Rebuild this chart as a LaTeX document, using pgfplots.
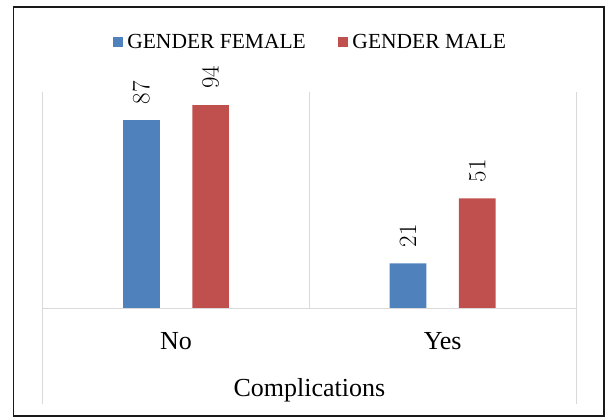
\documentclass[border=0pt]{standalone}
\usepackage{fontspec}
\setmainfont{Liberation Serif}
\usepackage{pgfplots}
\pgfplotsset{compat=1.18}
\definecolor{fblue}{HTML}{4F81BD}
\definecolor{mred}{HTML}{C0504D}
\definecolor{gridgray}{HTML}{D9D9D9}
\begin{document}
\begin{tikzpicture}[x=1pt,y=1pt]
\path[use as bounding box] (0,0) rectangle (606,417);
\draw[line width=1.3pt, black!90] (13.5,1) rectangle (604,410);
\begin{axis}[
  at={(42.7pt,108pt)}, anchor=south west,
  scale only axis, width=533.3pt, height=217pt,
  xmin=-0.5, xmax=1.5, ymin=0, ymax=100,
  ybar, bar width=36.7pt,
  axis line style={draw=none},
  ytick=\empty,
  xtick={0,1}, xticklabels={No,Yes},
  major tick length=0pt,
  xticklabel style={font=\rmfamily\fontsize{26}{30}\selectfont, anchor=base, inner sep=0pt, yshift=-40.3pt},
  extra x ticks={-0.5,0.5,1.5}, extra x tick labels={},
  extra x tick style={grid=major, major grid style={gridgray, line width=1pt}},
  xlabel={Complications},
  xlabel style={font=\rmfamily\fontsize{26}{30}\selectfont, at={(axis description cs:0.5,0)}, anchor=base, inner sep=0pt, yshift=-87.7pt},
  clip=false,
  legend columns=2,
  legend style={draw=none, fill=none, at={(axis description cs:0.5,1)}, anchor=center, yshift=50pt, font=\rmfamily\fontsize{21.5}{25}\selectfont, inner sep=0pt, nodes={inner sep=0pt, font=\rmfamily\fontsize{21.5}{25}\selectfont}, /tikz/every odd column/.append style={column sep=4.6pt}, /tikz/every even column/.append style={column sep=32pt}},
  legend image code/.code={\fill[#1] (0pt,-5pt) rectangle (10pt,5pt);},
  nodes near coords,
  nodes near coords style={font=\rmfamily\fontsize{25}{29}\selectfont, yshift=16pt, rotate=90, anchor=west, inner sep=0pt, black},
]
\addplot[fill=fblue, draw=none, bar shift=-34.6pt] coordinates {(0,87) (1,21)};
\addplot[fill=mred, draw=none, bar shift=34.6pt] coordinates {(0,94) (1,51)};
\legend{GENDER FEMALE, GENDER MALE}
\draw[gridgray, line width=1pt] (axis cs:-0.5,0) -- (axis cs:1.5,0);
\draw[gridgray, line width=1pt] (axis cs:-0.5,0) -- ([yshift=-95pt]axis cs:-0.5,0);
\draw[gridgray, line width=1pt] (axis cs:1.5,0) -- ([yshift=-95pt]axis cs:1.5,0);
\end{axis}
\end{tikzpicture}
\end{document}
